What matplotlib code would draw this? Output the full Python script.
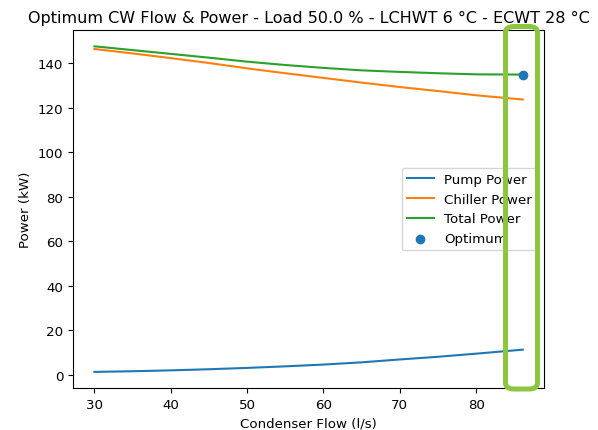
import numpy as np
import matplotlib
matplotlib.use("Agg")
import matplotlib.pyplot as plt
from matplotlib.patches import FancyBboxPatch

# condenser flow (l/s) and power readings (kW)
flow = [30, 35, 40, 45, 50, 55, 60, 65, 70, 75, 80, 86.1]
pump_power = [1.2, 1.5, 1.9, 2.4, 3.0, 3.7, 4.5, 5.5, 6.8, 8.0, 9.4, 11.2]
chiller_power = [146.3, 144.3, 142.2, 140.0, 137.6, 135.4, 133.3, 131.2, 129.2, 127.4, 125.5, 123.6]
total_power = list(np.array(pump_power) + np.array(chiller_power))

opt_flow = 86.1
opt_power = total_power[-1]

load = 50.0
lchwt = 6
ecwt = 28

plt.rcParams["font.size"] = 9.6

fig = plt.figure(figsize=(5.98, 4.31), dpi=100)
ax = fig.add_axes([0.122, 0.097, 0.788, 0.831])

ax.plot(flow, pump_power, label="Pump Power")
ax.plot(flow, chiller_power, label="Chiller Power")
ax.plot(flow, total_power, label="Total Power")
ax.scatter([opt_flow], [opt_power], label="Optimum", zorder=3)

ax.set_xlabel("Condenser Flow (l/s)")
ax.set_ylabel("Power (kW)")
ax.set_title(f"Optimum CW Flow & Power - Load {load} % - LCHWT {lchwt} °C - ECWT {ecwt} °C",
             fontsize=11.5)
ax.legend(loc="center right")

# highlight box drawn over the figure
box = FancyBboxPatch((505.5 / 598, 1 - 390 / 431), 32 / 598, 362.5 / 431,
                     boxstyle="round,pad=0,rounding_size=0.014",
                     transform=fig.transFigure, fill=False,
                     edgecolor="#8cc63f", linewidth=3.6, zorder=10)
fig.patches.append(box)

plt.savefig("out.png", dpi=100)
